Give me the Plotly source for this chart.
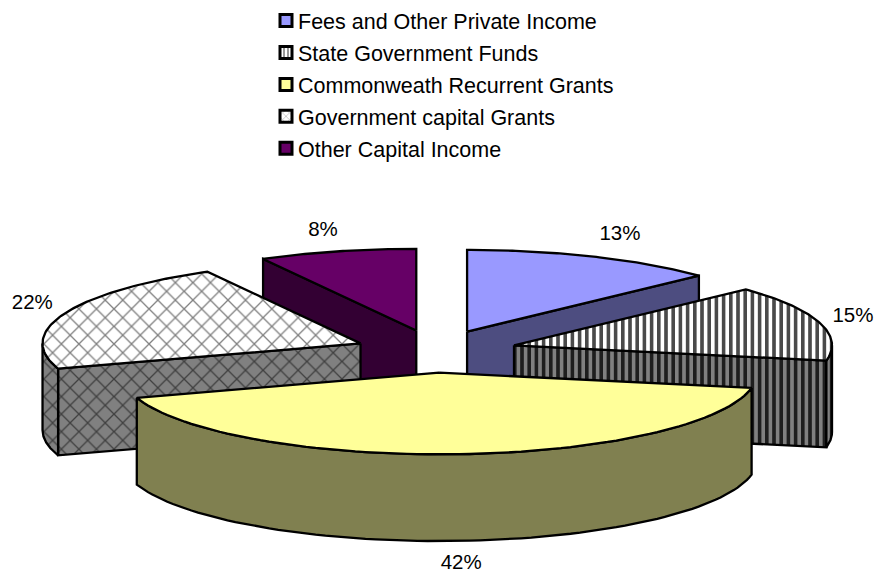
import math
import plotly.graph_objects as go

# Income shares, clockwise from twelve o'clock
categories = ["Fees and Other Private Income", "State Government Funds",
              "Commonweath Recurrent Grants", "Government capital Grants",
              "Other Capital Income"]
shares = [13, 15, 42, 22, 8]

top_colors = ["#9999FF", "#FFFFFF", "#FFFF99", "#FFFFFF", "#660066"]
side_colors = ["#4D4D80", "#808080", "#808050", "#808080", "#330033"]
hatch_shapes = ["", "|", "", "x", ""]
hatch_top = [None, "#4A4A4A", None, "#808080", None]
hatch_side = [None, "#1E1E1E", None, "#404040", None]
draw_order = [4, 0, 3, 1, 2]

# Ellipse projection of the tilted pie, in page pixels
CX, CY = 434.0, 350.5
RX, RY = 318.0, 82.0
DEPTH = 87.0
EXPLODE = 0.262
FONT = "Liberation Sans, Arial, sans-serif"
# Small per-slice corrections to the exploded apex
apex_nudge = [(0, 0), (0, 0), (0, 0), (4, 0), (3, 0)]
# Radial multipliers of each percentage label along x and y
label_scale = [(1.21, 1.29), (1.11, 1.25), (1.1, 2.34), (1.11, 1.3), (1.18, 1.26)]


def point(ox, oy, deg, drop=0.0):
    t = math.radians(deg)
    return ox + RX * math.sin(t), oy - RY * math.cos(t) + drop


def arc(ox, oy, d0, d1, drop=0.0, steps=80):
    pts = [point(ox, oy, d0 + (d1 - d0) * i / steps, drop) for i in range(steps + 1)]
    return [p[0] for p in pts], [p[1] for p in pts]


def face(fig, xs, ys, color, shape, fg, size, solidity):
    kw = {}
    if shape:
        kw["fillpattern"] = dict(shape=shape, fgcolor=fg, bgcolor=color,
                                 size=size, solidity=solidity, fillmode="replace")
    fig.add_trace(go.Scatter(x=xs + xs[:1], y=ys + ys[:1], mode="lines", fill="toself",
                             fillcolor=color, line=dict(color="black", width=2.3),
                             showlegend=False, hoverinfo="skip", **kw))


fig = go.Figure()

# Angular extents and exploded apex for each slice
total = sum(shares)
spans, apexes, running = [], [], 0.0
for i, v in enumerate(shares):
    d0 = running / total * 360
    running += v
    d1 = running / total * 360
    mid = math.radians((d0 + d1) / 2)
    spans.append((d0, d1))
    apexes.append((CX + EXPLODE * RX * math.sin(mid) + apex_nudge[i][0],
                   CY - EXPLODE * RY * math.cos(mid) + apex_nudge[i][1]))

for i in draw_order:
    d0, d1 = spans[i]
    ox, oy = apexes[i]
    top, side = top_colors[i], side_colors[i]
    shape = hatch_shapes[i]
    psize = 7.2 if shape == "|" else 12.4
    psolid = 0.5 if shape == "|" else 0.2

    # Cut faces turned towards the viewer
    cuts = []
    if math.sin(math.radians(d0)) < -1e-6:
        cuts.append(d0)
    if math.sin(math.radians(d1)) > 1e-6:
        cuts.append(d1)
    for d in cuts:
        px, py = point(ox, oy, d)
        face(fig, [ox, px, px, ox], [oy, py, py + DEPTH, oy + DEPTH],
             side, shape, hatch_side[i], psize, psolid)

    # Outer wall: only the near half of the rim is visible
    w0, w1 = max(d0, 90), min(d1, 270)
    if w1 > w0:
        ax, ay = arc(ox, oy, w0, w1)
        bx, by = arc(ox, oy, w0, w1, DEPTH)
        face(fig, ax + bx[::-1], ay + by[::-1], side, shape, hatch_side[i], psize, psolid)

    # Top surface
    ax, ay = arc(ox, oy, d0, d1)
    face(fig, [ox] + ax, [oy] + ay, top, shape, hatch_top[i], psize, psolid)

# Percentage labels placed around the slices
for i, v in enumerate(shares):
    d0, d1 = spans[i]
    mid = math.radians((d0 + d1) / 2)
    ox, oy = apexes[i]
    kx, ky = label_scale[i]
    fig.add_trace(go.Scatter(x=[ox + kx * RX * math.sin(mid)],
                             y=[oy - ky * RY * math.cos(mid)],
                             mode="text", text=[f"{v}%"],
                             textposition="middle center", cliponaxis=False,
                             textfont=dict(family=FONT, size=20.5, color="black"),
                             showlegend=False, hoverinfo="skip"))

# Legend entries use bar swatches, which give square keys with hatching
for i, name in enumerate(categories):
    pattern = dict(shape=hatch_shapes[i])
    if hatch_shapes[i]:
        pattern.update(fgcolor="#303030" if i == 1 else "#808080", bgcolor=top_colors[i],
                       size=5 if i == 1 else 6, solidity=0.5 if i == 1 else 0.3)
    fig.add_trace(go.Bar(x=[None], y=[None], name=name, legendgroup=name,
                         marker=dict(color=top_colors[i], pattern=pattern,
                                     line=dict(color="black", width=3))))

fig.update_layout(
    width=876, height=571, margin=dict(l=0, r=0, t=0, b=0),
    paper_bgcolor="white", plot_bgcolor="white",
    xaxis=dict(range=[0, 876], visible=False, fixedrange=True),
    yaxis=dict(range=[571, 0], visible=False, fixedrange=True),
    legend=dict(x=258 / 876, y=1 + 2 / 571, xanchor="left", yanchor="top",
                traceorder="grouped", tracegroupgap=1,
                bgcolor="rgba(0,0,0,0)",
                font=dict(family=FONT, size=21.5, color="black")),
)

# Pull the legend keys closer to their text
tighten_keys = """
document.querySelectorAll('.legend .layers').forEach(function (g) {
  g.setAttribute('transform', 'translate(8,0)');
});
"""
fig.write_html("out.html", post_script=tighten_keys)
